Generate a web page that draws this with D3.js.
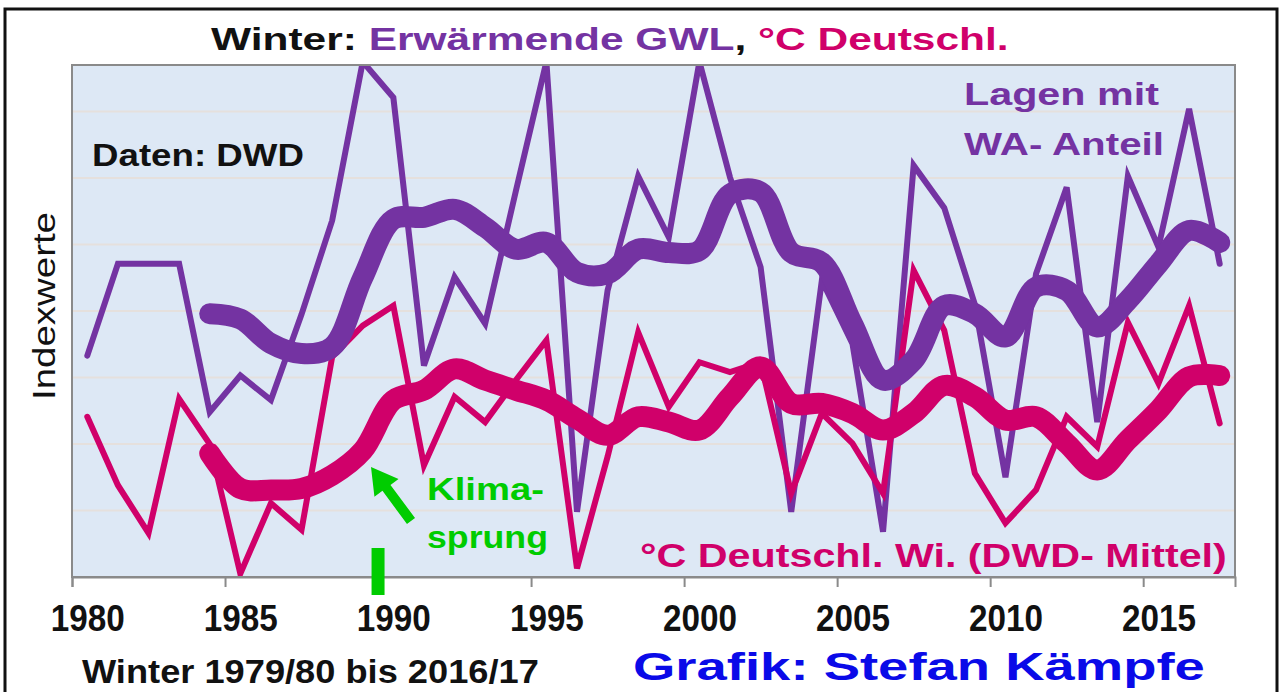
<!DOCTYPE html>
<html>
<head>
<meta charset="utf-8">
<script src="https://cdn.jsdelivr.net/npm/d3@7"></script>
<style>
  body { margin: 0; background: #fff; }
  svg text { font-family: "Liberation Sans", Arial, sans-serif; }
</style>
</head>
<body>
<div id="chart"></div>
<script>
// winters 1979/80 .. 2016/17, labelled by the January year
var years = [1980, 1981, 1982, 1983, 1984, 1985, 1986, 1987, 1988, 1989,
             1990, 1991, 1992, 1993, 1994, 1995, 1996, 1997, 1998, 1999,
             2000, 2001, 2002, 2003, 2004, 2005, 2006, 2007, 2008, 2009,
             2010, 2011, 2012, 2013, 2014, 2015, 2016, 2017];
var tickYears = [1980, 1985, 1990, 1995, 2000, 2005, 2010, 2015];

// index values (one grid step = 1)
var gwl = [3.33, 4.71, 4.71, 4.71, 2.48, 3.03, 2.66, 3.95, 5.36, 7.75,
           7.21, 3.18, 4.51, 3.81, 5.8, 7.75, 0.98, 4.31, 6.03, 5.11,
           7.75, 6.01, 4.66, 0.98, 4.46, 3.51, 0.68, 6.19, 5.55, 4.1,
           1.5, 4.56, 5.86, 2.33, 6.03, 4.96, 7.04, 4.71];
var gwlMean = [null, null, null, null, 3.96, 3.88, 3.51, 3.36, 3.46, 4.5,
               5.38, 5.41, 5.53, 5.26, 4.93, 5.03, 4.58, 4.56, 4.93, 4.88,
               4.91, 5.76, 5.79, 4.88, 4.73, 3.81, 2.96, 3.26, 4.08, 3.96,
               3.61, 4.36, 4.31, 3.76, 4.16, 4.71, 5.21, 5.03];
var temp = [2.41, 1.38, 0.66, 2.68, 2.0, 0.05, 1.11, 0.71, 3.31, 3.78,
            4.08, 1.68, 2.71, 2.33, 2.96, 3.56, 0.13, 1.81, 3.68, 2.56,
            3.23, 3.08, 3.23, 1.26, 2.46, 2.01, 1.26, 4.61, 3.71, 1.56,
            0.81, 1.31, 2.41, 1.96, 3.83, 2.91, 4.08, 2.31];
var tempMean = [null, null, null, null, 1.86, 1.33, 1.31, 1.33, 1.53, 1.9,
                2.66, 2.81, 3.13, 2.96, 2.81, 2.66, 2.38, 2.13, 2.41, 2.33,
                2.21, 2.71, 3.16, 2.61, 2.61, 2.46, 2.21, 2.46, 2.88, 2.71,
                2.36, 2.41, 2.01, 1.61, 2.06, 2.51, 3.01, 3.03];
var gridValues = [1, 2, 3, 4, 5, 6, 7];

var COLORS = {
  gwl: "#7433a2",
  temp: "#d0006a",
  green: "#00cc00",
  blue: "#0a0ae8",
};

var W = 1281, H = 692;
var plot = { left: 72, top: 65, right: 1235, bottom: 577 };

var svg = d3.select("#chart").append("svg")
  .attr("width", W)
  .attr("height", H);

// outer frame
svg.append("rect")
  .attr("x", 5).attr("y", 9)
  .attr("width", 1272).attr("height", 700)
  .attr("fill", "none")
  .attr("stroke", "#111")
  .attr("stroke-width", 3);

var x = d3.scaleLinear()
  .domain([1979.5, 2017.5])
  .range([plot.left, plot.right]);
var y = d3.scaleLinear()
  .domain([0, 7.7])
  .range([plot.bottom, plot.top]);

// squeeze/stretch a text horizontally to a target width
function fit(sel, tx, ty, w, rot) {
  var len = sel.node().getComputedTextLength();
  sel.attr("transform", "translate(" + tx + "," + ty + ")" + (rot ? " rotate(-90)" : "") +
    " scale(" + (w / len) + ",1)");
  return sel;
}

svg.append("defs").append("clipPath")
  .attr("id", "clip")
  .append("rect")
  .attr("x", plot.left).attr("y", plot.top)
  .attr("width", plot.right - plot.left)
  .attr("height", plot.bottom - plot.top);

svg.append("rect")
  .attr("x", plot.left).attr("y", plot.top)
  .attr("width", plot.right - plot.left)
  .attr("height", plot.bottom - plot.top)
  .attr("fill", "#dde8f5");

svg.append("g").selectAll("line")
  .data(gridValues)
  .enter()
  .append("line")
  .attr("x1", plot.left).attr("x2", plot.right)
  .attr("y1", function (d) { return y(d); })
  .attr("y2", function (d) { return y(d); })
  .attr("stroke", "#e5e0dd")
  .attr("stroke-width", 2);

var lines = svg.append("g").attr("clip-path", "url(#clip)");

function series(values, color, sw, smooth) {
  var pts = years.map(function (yr, i) { return [yr, values[i]]; })
    .filter(function (p) { return p[1] !== null; });
  var line = d3.line()
    .x(function (d) { return x(d[0]); })
    .y(function (d) { return y(d[1]); });
  if (smooth) line.curve(d3.curveCatmullRom);
  lines.append("path")
    .datum(pts)
    .attr("fill", "none")
    .attr("stroke", color)
    .attr("stroke-width", sw)
    .attr("stroke-linecap", "round")
    .attr("stroke-linejoin", smooth ? "round" : "miter")
    .attr("d", line);
}

series(gwl, COLORS.gwl, 6, false);
series(temp, COLORS.temp, 6, false);
series(gwlMean, COLORS.gwl, 21, true);
series(tempMean, COLORS.temp, 21, true);

// plot border
svg.append("rect")
  .attr("x", plot.left).attr("y", plot.top)
  .attr("width", plot.right - plot.left)
  .attr("height", plot.bottom - plot.top)
  .attr("fill", "none")
  .attr("stroke", "#8a8a8a")
  .attr("stroke-width", 2);

// tick marks sit on category boundaries, labels in the category middle
var tickAxis = svg.append("g")
  .attr("transform", "translate(0," + plot.bottom + ")")
  .call(d3.axisBottom(x)
    .tickValues(tickYears.map(function (d) { return d - 0.5; }))
    .tickSize(10)
    .tickFormat(""));
tickAxis.select(".domain").attr("stroke", "#8a8a8a").attr("stroke-width", 2);
tickAxis.selectAll(".tick line").attr("stroke", "#8a8a8a").attr("stroke-width", 2);

var labelAxis = svg.append("g")
  .attr("transform", "translate(0," + plot.bottom + ")")
  .call(d3.axisBottom(x)
    .tickValues(tickYears)
    .tickSize(0)
    .tickPadding(28)
    .tickFormat(d3.format("d")));
labelAxis.select(".domain").remove();
labelAxis.selectAll("text")
  .attr("font-family", "Liberation Sans, Arial, sans-serif")
  .attr("font-size", 37)
  .attr("font-weight", "bold")
  .attr("fill", "#111")
  .attr("dy", "0.71em")
  .each(function () {
    var len = this.getComputedTextLength();
    d3.select(this).attr("transform", "scale(" + (74 / len) + ",1)");
  });

// title
var title = svg.append("text")
  .attr("font-size", 31)
  .attr("font-weight", "bold");
title.append("tspan").attr("fill", "#111").text("Winter: ");
title.append("tspan").attr("fill", COLORS.gwl).text("Erwärmende GWL");
title.append("tspan").attr("fill", "#111").text(", ");
title.append("tspan").attr("fill", COLORS.temp).text("°C Deutschl.");
fit(title, 211, 50, 798);

fit(svg.append("text")
  .attr("font-size", 32)
  .attr("fill", "#111")
  .text("Indexwerte"), 55, 400, 188, true);

var bold = "DejaVu Sans, Verdana, sans-serif";

fit(svg.append("text")
  .attr("font-family", bold).attr("font-weight", "bold")
  .attr("font-size", 31).attr("fill", "#111")
  .text("Daten: DWD"), 92, 166, 212);

fit(svg.append("text")
  .attr("font-family", bold).attr("font-weight", "bold")
  .attr("font-size", 32).attr("fill", COLORS.gwl)
  .text("Lagen mit"), 964, 105, 195);
fit(svg.append("text")
  .attr("font-family", bold).attr("font-weight", "bold")
  .attr("font-size", 32).attr("fill", COLORS.gwl)
  .text("WA- Anteil"), 964, 155, 200);

fit(svg.append("text")
  .attr("font-family", bold).attr("font-weight", "bold")
  .attr("font-size", 32).attr("fill", COLORS.green)
  .text("Klima-"), 427, 500, 117);
fit(svg.append("text")
  .attr("font-family", bold).attr("font-weight", "bold")
  .attr("font-size", 32).attr("fill", COLORS.green)
  .text("sprung"), 427, 548, 121);

fit(svg.append("text")
  .attr("font-family", bold).attr("font-weight", "bold")
  .attr("font-size", 34).attr("fill", COLORS.temp)
  .text("°C Deutschl. Wi. (DWD-  Mittel)"), 640, 567, 587);

// Klimasprung marker and arrow
svg.append("rect")
  .attr("x", x(1989.5) - 6.5).attr("y", 548)
  .attr("width", 13).attr("height", 47)
  .attr("fill", COLORS.green);

var tip = [371, 467], tail = [411, 521];
var ang = Math.atan2(tail[1] - tip[1], tail[0] - tip[0]);
var arrow = svg.append("g")
  .attr("transform", "translate(" + tip[0] + "," + tip[1] + ") rotate(" + (ang * 180 / Math.PI) + ")");
var alen = Math.hypot(tail[0] - tip[0], tail[1] - tip[1]);
arrow.append("polygon")
  .attr("points", [[0, 0], [26, -15], [26, -5], [alen, -5], [alen, 5], [26, 5], [26, 15]].join(" "))
  .attr("fill", COLORS.green);

// bottom texts
fit(svg.append("text")
  .attr("font-size", 34).attr("font-weight", "bold").attr("fill", "#111")
  .text("Winter 1979/80 bis 2016/17"), 82, 683, 457);

fit(svg.append("text")
  .attr("font-size", 39).attr("font-weight", "bold").attr("fill", COLORS.blue)
  .text("Grafik: Stefan Kämpfe"), 633, 680, 572);
</script>
</body>
</html>
